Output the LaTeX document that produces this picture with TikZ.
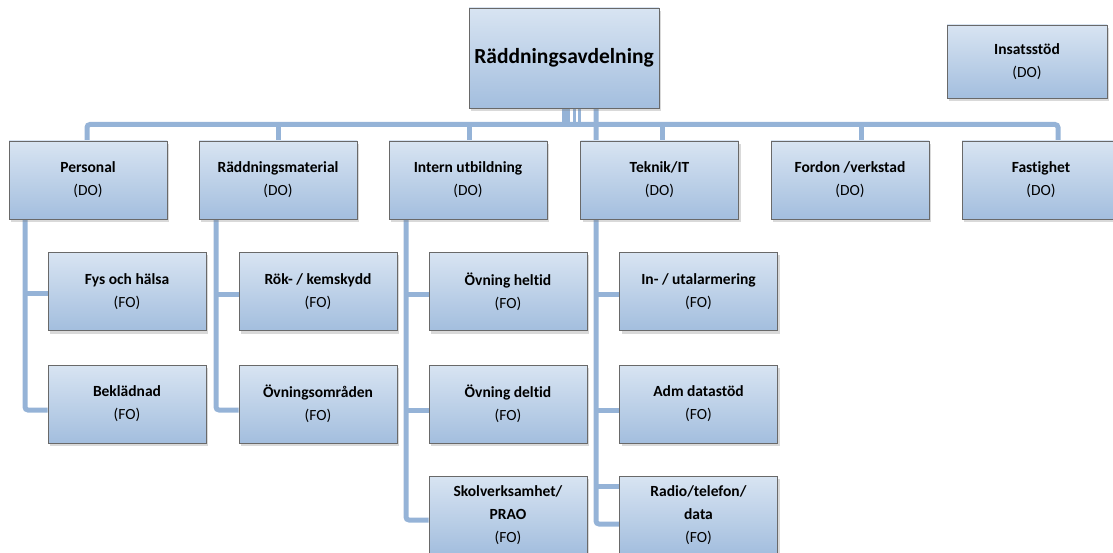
\documentclass[tikz,border=0pt]{standalone}
\usepackage{fontspec}
\setmainfont{Carlito}[Ligatures=NoCommon]
\usetikzlibrary{shadows,backgrounds}
\definecolor{linkblue}{RGB}{149,179,215}
\definecolor{boxtop}{RGB}{216,228,242}
\definecolor{boxbot}{RGB}{163,190,222}
\definecolor{boxline}{RGB}{105,105,105}

\begin{document}
\begin{tikzpicture}[x=1pt, y=-1pt,
        unit/.style={draw=boxline, line width=0.8pt, top color=boxtop, bottom color=boxbot,
            minimum width=158pt, minimum height=78pt, inner sep=0pt, align=center,
            font=\fontsize{15.5}{23}\selectfont,
            drop shadow={shadow xshift=2pt, shadow yshift=-3pt, opacity=0.3}},
        link/.style={draw=linkblue, line width=5pt}]
        \useasboundingbox (0,0) rectangle (1113,553);

        % top
        \node[unit, minimum width=190pt, minimum height=100pt, font=\fontsize{21.5}{26}\selectfont\bfseries] (head) at (564,58) {Räddningsavdelning};
        \node[unit, minimum width=160pt, minimum height=73pt] (insats) at (1027,61.5) {\textbf{Insatsstöd}\\(DO)};

        % departments
        \node[unit] (pers) at (88,180) {\textbf{Personal}\\(DO)};
        \node[unit] (rmat) at (278,180) {\textbf{Räddningsmaterial}\\(DO)};
        \node[unit] (intu) at (468,180) {\textbf{Intern utbildning}\\(DO)};
        \node[unit] (tekn) at (659.5,180) {\textbf{Teknik/IT}\\(DO)};
        \node[unit] (ford) at (850,180) {\textbf{Fordon /verkstad}\\(DO)};
        \node[unit] (fast) at (1041,180) {\textbf{Fastighet}\\(DO)};

        % groups
        \node[unit] (fys) at (127,291.5) {\textbf{Fys och hälsa}\\(FO)};
        \node[unit] (bekl) at (127,404) {\textbf{Beklädnad}\\(FO)};
        \node[unit] (rok) at (318,291.5) {\textbf{Rök- / kemskydd}\\(FO)};
        \node[unit] (omr) at (318,404) {\textbf{Övningsområden}\\(FO)};
        \node[unit] (helt) at (508,291.5) {\textbf{Övning heltid}\\(FO)};
        \node[unit] (delt) at (508,404) {\textbf{Övning deltid}\\(FO)};
        \node[unit] (skol) at (508,515) {\textbf{Skolverksamhet/}\\\textbf{PRAO}\\(FO)};
        \node[unit] (larm) at (698.5,291.5) {\textbf{In- / utalarmering}\\(FO)};
        \node[unit] (adm) at (698.5,404) {\textbf{Adm datastöd}\\(FO)};
        \node[unit] (radio) at (698.5,515) {\textbf{Radio/telefon/}\\\textbf{data}\\(FO)};

        \begin{scope}[on background layer]
            \coordinate (bl) at (87,124.5);
            \coordinate (br) at (1058,124.5);
            \draw[link, rounded corners=3pt] (bl |- pers.north) -- (bl) -- (br) -- (br |- fast.north);
            \foreach \x/\n in {278/rmat, 469/intu, 662/tekn, 861/ford}
                \draw[link] (\x,124.5) -- (\x,124.5 |- \n.north);
            \foreach \x/\w in {564.5/5, 567.5/5, 574.5/3.5, 579/3}
                \draw[link, line width=\w pt] (\x,124.5 |- head.south) -- (\x,124.5);

            \draw[link, rounded corners=3pt] (25,0 |- pers.south) -- (25,410) -- (bekl.west |- 25,410);
            \draw[link] (25,293) -- (fys.west |- 25,293);

            \draw[link, rounded corners=3pt] (216,0 |- rmat.south) -- (216,410) -- (omr.west |- 216,410);
            \draw[link] (216,294) -- (rok.west |- 216,294);

            \draw[link, rounded corners=3pt] (406,0 |- intu.south) -- (406,520) -- (skol.west |- 406,520);
            \draw[link] (406,294) -- (helt.west |- 406,294);
            \draw[link] (406,410) -- (delt.west |- 406,410);

            \draw[link, rounded corners=3pt] (596,0 |- head.south) -- (596,524) -- (radio.west |- 596,524);
            \draw[link] (596,294) -- (larm.west |- 596,294);
            \draw[link] (596,410) -- (adm.west |- 596,410);
            \draw[link] (596,486) -- (radio.west |- 596,486);
        \end{scope}
    \end{tikzpicture}
\end{document}
